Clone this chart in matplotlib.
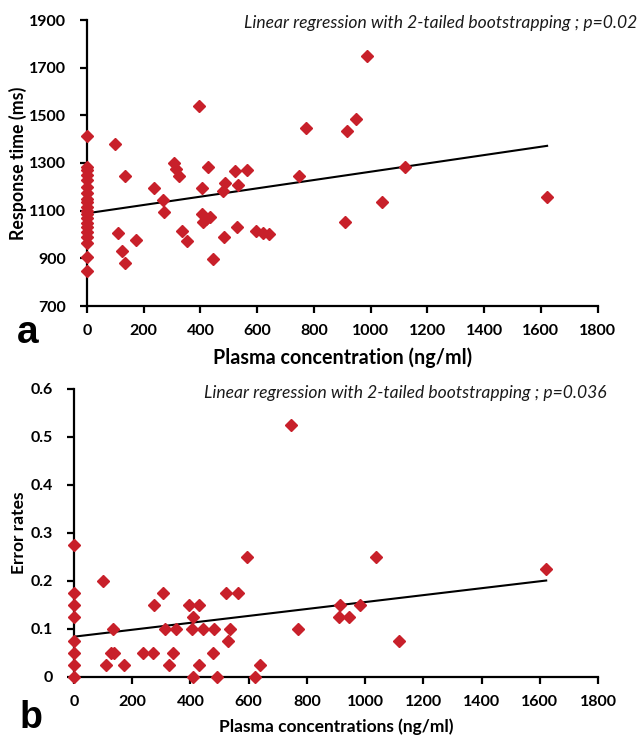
import matplotlib
matplotlib.use("Agg")
import matplotlib.pyplot as plt
import numpy as np

# panel a: response time vs plasma concentration
conc_a = [0] * 20 + [
    98, 135, 109, 125, 134, 172, 235, 268, 272, 305, 313, 325, 336, 353,
    395, 405, 405, 409, 421, 433, 427, 445, 478, 487, 482, 521, 528, 534,
    565, 595, 619, 640, 747, 773, 986, 916, 947, 1120, 1039, 911, 1621,
]
rt_a = [
    1412, 1285, 1270, 1250, 1230, 1200, 1175, 1150, 1135, 1115,
    1100, 1085, 1070, 1050, 1030, 1010, 990, 965, 905, 845,
    1378, 1245, 1007, 929, 880, 978, 1197, 1145, 1093, 1299, 1275, 1245,
    1016, 974, 1538, 1195, 1086, 1052, 1065, 1072, 1282, 896, 1181, 1216,
    988, 1268, 1030, 1208, 1271, 1016, 1006, 1002, 1247, 1447, 1748, 1433,
    1483, 1282, 1138, 1052, 1156,
]
fit_a_x = [0, 1622]
fit_a_y = [1089, 1372]

# panel b: error rates vs plasma concentration
conc_b = [0] * 8 + [
    101, 110, 133, 127, 136, 172, 236, 270, 274, 307, 311, 326, 340, 349,
    394, 409, 405, 409, 428, 430, 442, 479, 482, 490, 521, 536, 528, 562,
    594, 622, 639, 745, 771, 1038, 915, 984, 910, 945, 1117, 1620,
]
err_b = [
    0.275, 0.175, 0.15, 0.125, 0.075, 0.05, 0.025, 0,
    0.2, 0.025, 0.1, 0.05, 0.05, 0.025, 0.05, 0.05, 0.15, 0.175, 0.1,
    0.025, 0.05, 0.1, 0.15, 0.125, 0.1, 0, 0.15, 0.025, 0.1, 0.05, 0.1,
    0, 0.175, 0.1, 0.075, 0.175, 0.25, 0, 0.025, 0.525, 0.1, 0.25, 0.15,
    0.15, 0.125, 0.125, 0.075, 0.225,
]
fit_b_x = [0, 1622]
fit_b_y = [0.084, 0.201]

x_ticks = np.arange(0, 1801, 200)
note_a = "Linear regression with 2-tailed bootstrapping ; p=0.02"
note_b = "Linear regression with 2-tailed bootstrapping ; p=0.036"

plt.rcParams["font.family"] = ["Lato", "DejaVu Sans"]
red = "#c8202a"

fig = plt.figure(figsize=(6.39, 7.36), dpi=100)
ax1 = fig.add_axes([87 / 639, 1 - 306 / 736, 510.6 / 639, 286 / 736])
ax2 = fig.add_axes([74 / 639, 1 - 677 / 736, 524 / 639, 288 / 736])


def style_axis(ax):
    for side in ["top", "right"]:
        ax.spines[side].set_visible(False)
    for side in ["left", "bottom"]:
        ax.spines[side].set_linewidth(1.6)
    ax.tick_params(direction="out", length=5, width=1.6, labelsize=11.5)
    ax.tick_params(axis="x", pad=8)
    ax.tick_params(axis="y", pad=10)
    for lab in ax.get_xticklabels() + ax.get_yticklabels():
        lab.set_fontweight("bold")


ax1.plot(conc_a, rt_a, "D", color=red, markersize=6.2, clip_on=False, zorder=5)
ax1.plot(fit_a_x, fit_a_y, color="black", linewidth=1.5, zorder=4)
ax1.set_xlim(0, 1800)
ax1.set_ylim(700, 1900)
ax1.set_xticks(x_ticks)
ax1.set_yticks(np.arange(700, 1901, 200))
style_axis(ax1)
ax1.set_xlabel("Plasma concentration (ng/ml)", fontsize=14.2, fontweight="bold")
ax1.set_ylabel("Response time (ms)", fontsize=12.8, fontweight="bold")
ax1.xaxis.set_label_coords(0.5, -41 / 286)
ax1.yaxis.set_label_coords(-60 / 510.6, 0.5)
fig.text(244 / 639, 1 - 23 / 736, note_a, fontsize=12.6, style="italic",
         va="center", color="#1a1a1a")

ax2.plot(conc_b, err_b, "D", color=red, markersize=6.2, clip_on=False, zorder=5)
ax2.plot(fit_b_x, fit_b_y, color="black", linewidth=1.5, zorder=4)
ax2.set_xlim(0, 1800)
ax2.set_ylim(0, 0.6)
ax2.set_xticks(x_ticks)
ax2.set_yticks(np.arange(0, 0.61, 0.1))
ax2.set_yticklabels(["0", "0.1", "0.2", "0.3", "0.4", "0.5", "0.6"])
style_axis(ax2)
ax2.set_xlabel("Plasma concentrations (ng/ml)", fontsize=12.5, fontweight="bold")
ax2.set_ylabel("Error rates", fontsize=12.5, fontweight="bold")
ax2.xaxis.set_label_coords(0.5, -41 / 288)
ax2.yaxis.set_label_coords(-47 / 524, 0.5)
fig.text(204 / 639, 1 - 393 / 736, note_b, fontsize=12.6, style="italic",
         va="center", color="#1a1a1a")

fig.text(17 / 639, 1 - 343 / 736, "a", fontsize=28, fontweight="bold",
         family="Liberation Sans", va="baseline")
fig.text(20 / 639, 1 - 728 / 736, "b", fontsize=27, fontweight="bold",
         family="Liberation Sans", va="baseline")

fig.savefig("out.png", dpi=100)
